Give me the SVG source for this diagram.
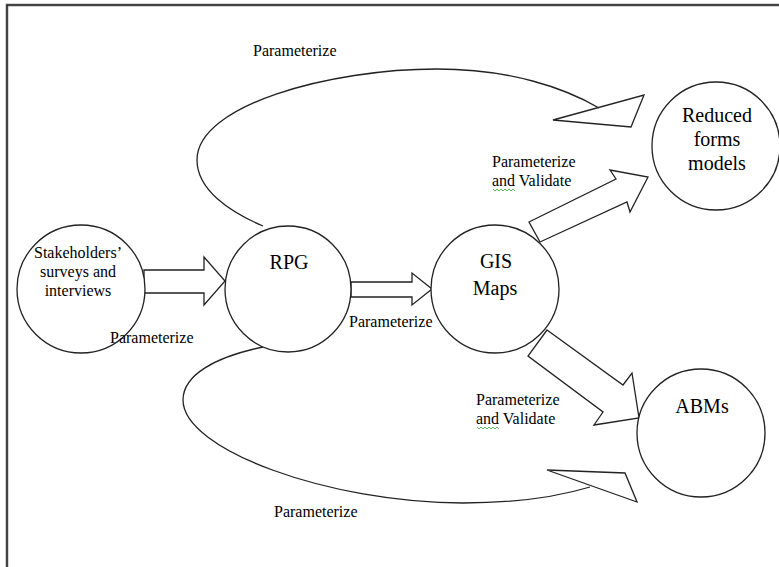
<svg xmlns="http://www.w3.org/2000/svg" width="779" height="567" viewBox="0 0 779 567">
<style>
.shape{fill:#fff;stroke:#222;stroke-width:1.3;stroke-linejoin:miter}
.curve{fill:none;stroke:#222;stroke-width:1.3}
.lbl{font-size:16px}
.big{font-size:20px;text-anchor:middle}
.mid{font-size:16px;text-anchor:middle}
.sq{fill:none;stroke:#3a3;stroke-width:0.8}
</style>
<rect x="0" y="0" width="779" height="567" fill="#fff"/>
<rect x="7" y="5" width="800" height="600" fill="none" stroke="#aaa" stroke-width="3"/>
<rect x="7" y="5" width="800" height="600" fill="none" stroke="#222" stroke-width="1.5"/>
<g id="connectors">
<polygon class="shape" points="144,270 204,270 204,257 225,281 204,305 204,293 144,293"/>
<polygon class="shape" points="351,282 412,282 412,273 432,289 412,305 412,297 351,297"/>
<polygon class="shape" points="529,222 616,179 610,170 648,177 630,212 627,202 540,242"/>
<polygon class="shape" points="547,330 623,385 632,373 639,418 594,425 603,412 528,356"/>
<path class="curve" d="M263,226 C230,212 197,190 197,160 C197,105 330,69 437,69 C510,69 565,88 599,108"/>
<polygon class="shape" points="553,120 644,95 631,127" style="fill:none"/>
<path class="curve" d="M263,347 C215,357 183,375 183,400 C183,450 330,503 463,503 C515,503 560,496 590,487"/>
<polygon class="shape" points="547,470 625,473 637,502" style="fill:none"/>
</g>
<g font-family="Liberation Serif, Times New Roman, serif" fill="#000">
<g id="stakeholders">
<circle class="shape" cx="81" cy="289" r="64"/>
<text class="mid" x="78" y="258" fill="#000">Stakeholders’</text>
<text class="mid" x="78" y="277" fill="#000">surveys and</text>
<text class="mid" x="78" y="296" fill="#000">interviews</text>
</g>
<g id="rpg">
<circle class="shape" cx="288" cy="289" r="63"/>
<text class="big" x="289" y="269" fill="#000">RPG</text>
</g>
<g id="gis">
<circle class="shape" cx="495" cy="289" r="64"/>
<text class="big" x="496" y="268" fill="#000">GIS</text>
<text class="big" x="495" y="295" fill="#000">Maps</text>
</g>
<g id="reduced">
<circle class="shape" cx="716" cy="146" r="64"/>
<text class="big" x="717" y="122" fill="#000">Reduced</text>
<text class="big" x="717" y="146" fill="#000">forms</text>
<text class="big" x="717" y="170" fill="#000">models</text>
</g>
<g id="abms">
<circle class="shape" cx="701" cy="433" r="64"/>
<text class="big" x="702" y="413" fill="#000">ABMs</text>
</g>
<g id="labels">
<text class="lbl" x="253" y="56">Parameterize</text>
<text class="lbl" x="492" y="167">Parameterize</text>
<text class="lbl" x="492" y="186">and Validate</text>
<polyline class="sq" points="493,189 495,191 497,189 499,191 501,189 503,191 505,189 507,191 509,189 511,191 513,189 515,191"/>
<text class="lbl" x="110" y="343">Parameterize</text>
<text class="lbl" x="349" y="327">Parameterize</text>
<text class="lbl" x="476" y="405">Parameterize</text>
<text class="lbl" x="476" y="424">and Validate</text>
<polyline class="sq" points="477,427 479,429 481,427 483,429 485,427 487,429 489,427 491,429 493,427 495,429 497,427 499,429"/>
<text class="lbl" x="274" y="517">Parameterize</text>
</g>
</g>
</svg>
